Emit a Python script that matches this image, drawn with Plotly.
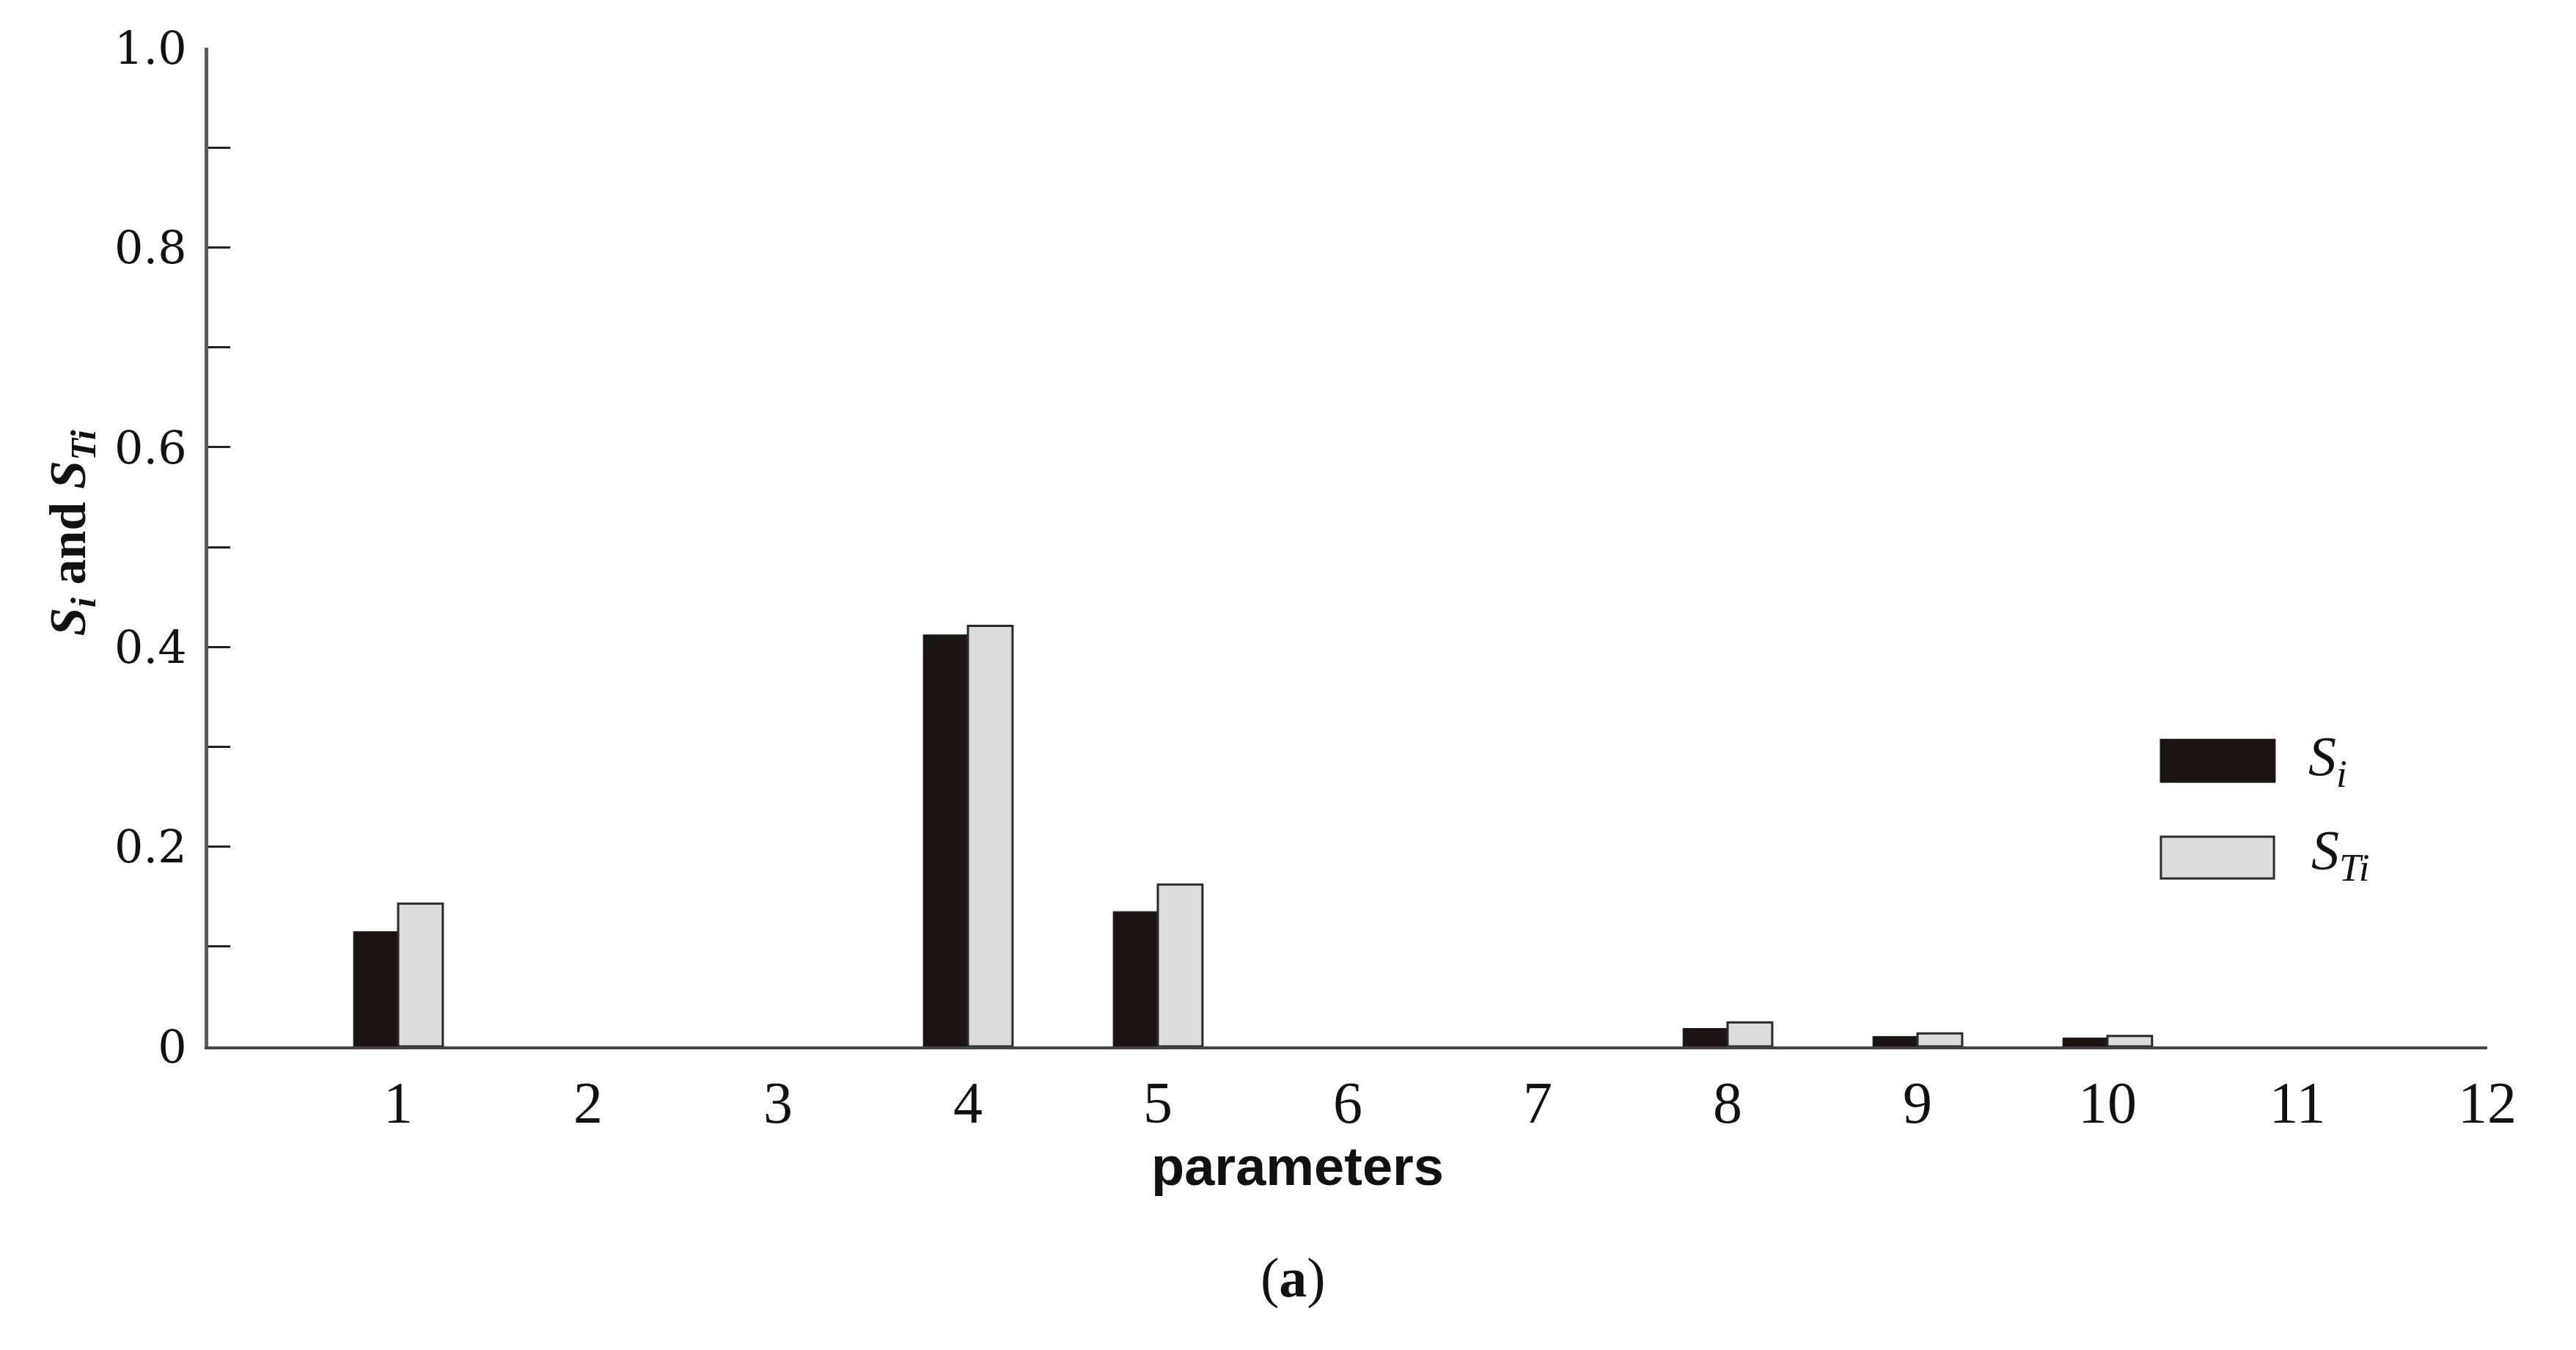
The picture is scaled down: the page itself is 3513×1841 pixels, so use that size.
import plotly.graph_objects as go

categories = [1, 2, 3, 4, 5, 6, 7, 8, 9, 10, 11, 12]
s_i = [0.115, 0.0, 0.0, 0.412, 0.135, 0.0, 0.0, 0.018, 0.010, 0.0085, 0.0, 0.0]
s_ti = [0.143, 0.0, 0.0, 0.421, 0.162, 0.0, 0.0, 0.024, 0.013, 0.0105, 0.0, 0.0]
y_tickvals = [0, 0.1, 0.2, 0.3, 0.4, 0.5, 0.6, 0.7, 0.8, 0.9, 1.0]
y_ticktext = ["0", "", "0.2", "", "0.4", "", "0.6", "", "0.8", "", "1.0"]

BLACK = "#1c1411"
LIGHT = "#dcdcdc"
BW = 0.235

fig = go.Figure()
fig.add_trace(go.Bar(x=categories, y=s_i, width=BW, offset=-BW,
                     marker=dict(color=BLACK,
                                 line=dict(color=BLACK, width=[1 if v > 0 else 0 for v in s_i])),
                     showlegend=False))
fig.add_trace(go.Bar(x=categories, y=s_ti, width=BW, offset=0,
                     marker=dict(color=LIGHT,
                                 line=dict(color="#2a2a2a", width=[3 if v > 0 else 0 for v in s_ti])),
                     showlegend=False))

fig.update_layout(
    width=3513, height=1841,
    margin=dict(l=284, r=121, t=65, b=414),
    paper_bgcolor="white", plot_bgcolor="white",
    barmode="overlay",
    xaxis=dict(range=[0, 12], tickvals=categories, ticktext=[str(c) for c in categories],
               showgrid=False, zeroline=False, showline=True, linecolor="#444444", linewidth=4,
               ticks="", ticklabelstandoff=4,
               tickfont=dict(family="Liberation Serif", size=80, color="#111111")),
    yaxis=dict(range=[0, 1.0], tickvals=y_tickvals, ticktext=y_ticktext,
               showgrid=False, zeroline=False, showline=True, linecolor="#5a5a5a", linewidth=5,
               ticks="inside", ticklen=30, tickwidth=2.5, tickcolor="#222222",
               ticklabelstandoff=12,
               tickfont=dict(family="DejaVu Serif", size=62, color="#111111")),
)

# manual legend
fig.add_shape(type="rect", xref="paper", yref="paper", x0=0.8565, x1=0.9070, y0=0.2643, y1=0.3076,
              fillcolor=BLACK, line=dict(color=BLACK, width=1))
fig.add_shape(type="rect", xref="paper", yref="paper", x0=0.8568, x1=0.9064, y0=0.1681, y1=0.2100,
              fillcolor=LIGHT, line=dict(color="#2a2a2a", width=3))
fig.add_annotation(xref="paper", yref="paper", x=0.921, y=0.286, xanchor="left", yanchor="middle",
                   text="<i>S<sub>i</sub></i>", showarrow=False,
                   font=dict(family="Liberation Serif", size=76, color="#111111"))
fig.add_annotation(xref="paper", yref="paper", x=0.922, y=0.192, xanchor="left", yanchor="middle",
                   text="<i>S<sub>Ti</sub></i>", showarrow=False,
                   font=dict(family="Liberation Serif", size=76, color="#111111"))

# axis titles
fig.add_annotation(xref="paper", yref="paper", x=0.478, y=-0.1197, xanchor="center", yanchor="middle",
                   text="<b>parameters</b>", showarrow=False,
                   font=dict(family="Liberation Sans", size=74, color="#111111"))
fig.add_annotation(xref="paper", yref="paper", x=-0.060, y=0.514, xanchor="center", yanchor="middle",
                   textangle=-90, text="<b><i>S<sub>i</sub></i> and <i>S<sub>Ti</sub></i></b>",
                   showarrow=False,
                   font=dict(family="Liberation Serif", size=70, color="#111111"))
fig.add_annotation(xref="paper", yref="paper", x=0.476, y=-0.232, xanchor="center", yanchor="middle",
                   text="(<b>a</b>)", showarrow=False,
                   font=dict(family="Liberation Serif", size=76, color="#111111"))

fig.write_html("out.html", config={"displayModeBar": False},
               post_script="document.body.style.margin='0';")
